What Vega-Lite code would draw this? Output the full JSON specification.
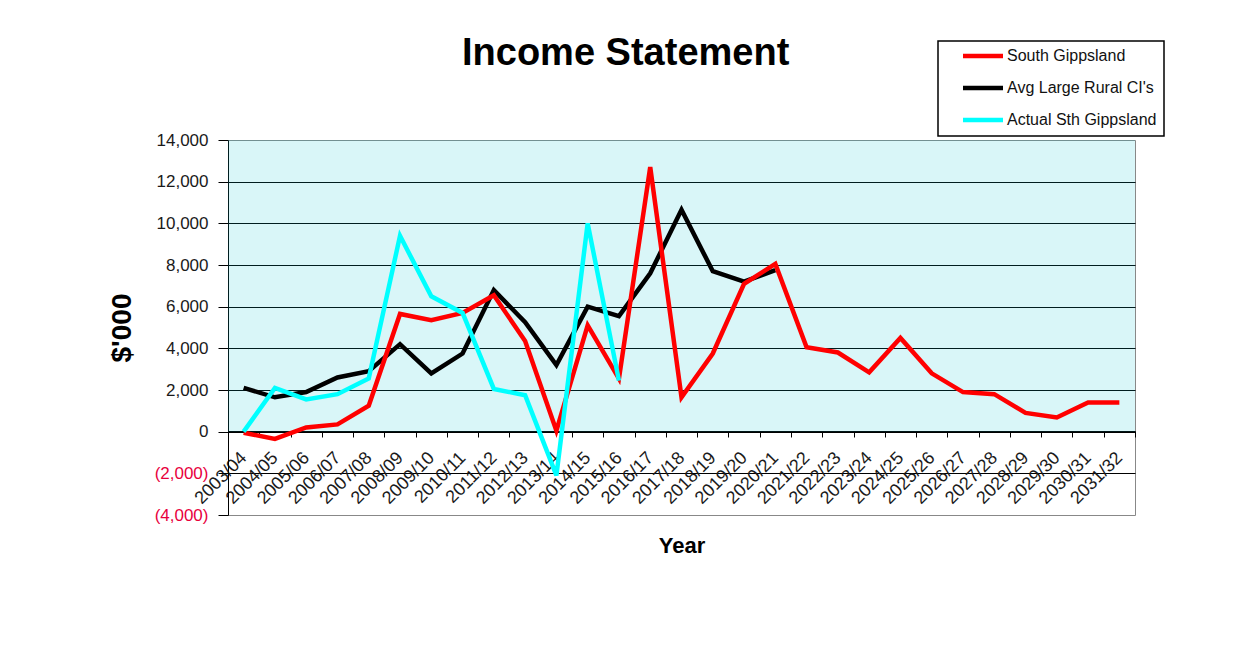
{
  "$schema": "https://vega.github.io/schema/vega-lite/v6.json",
  "width": 907,
  "height": 375,
  "autosize": {"type": "none"},
  "padding": {"left": 228, "top": 140, "right": 115, "bottom": 131},
  "background": "white",
  "title": {
    "text": "Income Statement",
    "font": "Liberation Sans",
    "fontSize": 38,
    "fontWeight": "bold",
    "color": "black",
    "anchor": "start",
    "frame": "group",
    "dx": 234,
    "dy": 53,
    "offset": 20
  },
  "config": {
    "view": {"stroke": "#888888", "strokeWidth": 1},
    "legend": {"strokeWidth": 1.5}
  },
  "datasets": {
    "rows": [
      {"year": "2003/04", "series": "South Gippsland", "value": -50},
      {"year": "2004/05", "series": "South Gippsland", "value": -350},
      {"year": "2005/06", "series": "South Gippsland", "value": 200},
      {"year": "2006/07", "series": "South Gippsland", "value": 350},
      {"year": "2007/08", "series": "South Gippsland", "value": 1250},
      {"year": "2008/09", "series": "South Gippsland", "value": 5650},
      {"year": "2009/10", "series": "South Gippsland", "value": 5350},
      {"year": "2010/11", "series": "South Gippsland", "value": 5700},
      {"year": "2011/12", "series": "South Gippsland", "value": 6550},
      {"year": "2012/13", "series": "South Gippsland", "value": 4350},
      {"year": "2013/14", "series": "South Gippsland", "value": 50},
      {"year": "2014/15", "series": "South Gippsland", "value": 5100},
      {"year": "2015/16", "series": "South Gippsland", "value": 2550},
      {"year": "2016/17", "series": "South Gippsland", "value": 12700},
      {"year": "2017/18", "series": "South Gippsland", "value": 1650},
      {"year": "2018/19", "series": "South Gippsland", "value": 3750},
      {"year": "2019/20", "series": "South Gippsland", "value": 7100},
      {"year": "2020/21", "series": "South Gippsland", "value": 8050},
      {"year": "2021/22", "series": "South Gippsland", "value": 4050},
      {"year": "2022/23", "series": "South Gippsland", "value": 3800},
      {"year": "2023/24", "series": "South Gippsland", "value": 2850},
      {"year": "2024/25", "series": "South Gippsland", "value": 4500},
      {"year": "2025/26", "series": "South Gippsland", "value": 2800},
      {"year": "2026/27", "series": "South Gippsland", "value": 1900},
      {"year": "2027/28", "series": "South Gippsland", "value": 1800},
      {"year": "2028/29", "series": "South Gippsland", "value": 900},
      {"year": "2029/30", "series": "South Gippsland", "value": 680},
      {"year": "2030/31", "series": "South Gippsland", "value": 1400},
      {"year": "2031/32", "series": "South Gippsland", "value": 1400},
      {"year": "2003/04", "series": "Avg Large Rural CI's", "value": 2100},
      {"year": "2004/05", "series": "Avg Large Rural CI's", "value": 1650},
      {"year": "2005/06", "series": "Avg Large Rural CI's", "value": 1900},
      {"year": "2006/07", "series": "Avg Large Rural CI's", "value": 2600},
      {"year": "2007/08", "series": "Avg Large Rural CI's", "value": 2900},
      {"year": "2008/09", "series": "Avg Large Rural CI's", "value": 4200},
      {"year": "2009/10", "series": "Avg Large Rural CI's", "value": 2800},
      {"year": "2010/11", "series": "Avg Large Rural CI's", "value": 3750},
      {"year": "2011/12", "series": "Avg Large Rural CI's", "value": 6800},
      {"year": "2012/13", "series": "Avg Large Rural CI's", "value": 5250},
      {"year": "2013/14", "series": "Avg Large Rural CI's", "value": 3200},
      {"year": "2014/15", "series": "Avg Large Rural CI's", "value": 6000},
      {"year": "2015/16", "series": "Avg Large Rural CI's", "value": 5550},
      {"year": "2016/17", "series": "Avg Large Rural CI's", "value": 7600},
      {"year": "2017/18", "series": "Avg Large Rural CI's", "value": 10650},
      {"year": "2018/19", "series": "Avg Large Rural CI's", "value": 7700},
      {"year": "2019/20", "series": "Avg Large Rural CI's", "value": 7200},
      {"year": "2020/21", "series": "Avg Large Rural CI's", "value": 7750},
      {"year": "2003/04", "series": "Actual Sth Gippsland", "value": 0},
      {"year": "2004/05", "series": "Actual Sth Gippsland", "value": 2100},
      {"year": "2005/06", "series": "Actual Sth Gippsland", "value": 1550},
      {"year": "2006/07", "series": "Actual Sth Gippsland", "value": 1800},
      {"year": "2007/08", "series": "Actual Sth Gippsland", "value": 2550},
      {"year": "2008/09", "series": "Actual Sth Gippsland", "value": 9400},
      {"year": "2009/10", "series": "Actual Sth Gippsland", "value": 6500},
      {"year": "2010/11", "series": "Actual Sth Gippsland", "value": 5700},
      {"year": "2011/12", "series": "Actual Sth Gippsland", "value": 2050},
      {"year": "2012/13", "series": "Actual Sth Gippsland", "value": 1750},
      {"year": "2013/14", "series": "Actual Sth Gippsland", "value": -2100},
      {"year": "2014/15", "series": "Actual Sth Gippsland", "value": 10000},
      {"year": "2015/16", "series": "Actual Sth Gippsland", "value": 2450}
    ],
    "zones": [
      {"zone": "positive"}
    ]
  },
  "layer": [
    {
      "data": {"name": "zones"},
      "mark": {"type": "rect", "color": "#02c3d0", "opacity": 0.15},
      "encoding": {
        "x": {"value": 0},
        "x2": {"value": "width"},
        "y": {"datum": 14000, "type": "quantitative", "scale": {"domain": [-4000, 14000], "nice": false, "zero": false}},
        "y2": {"datum": 0}
      }
    },
    {
      "data": {"name": "rows"},
      "transform": [{"filter": "datum.series === \"Avg Large Rural CI's\""}],
      "mark": {"type": "line", "strokeWidth": 4.5},
      "encoding": {
        "x": {
          "field": "year",
          "type": "nominal",
          "sort": "ascending",
          "bandPosition": 0.5,
          "scale": {"type": "band", "paddingInner": 0, "paddingOuter": 0},
          "axis": {
            "title": "Year",
            "titleFont": "Liberation Sans",
            "titleFontSize": 22,
            "titleFontWeight": "bold",
            "titleColor": "black",
            "titlePadding": 28,
            "offset": -84,
            "labelAngle": -45,
            "labelAlign": "right",
            "labelBaseline": "middle",
            "labelFont": "Liberation Sans",
            "labelFontSize": 18,
            "labelColor": "#1a1a1a",
            "labelPadding": 18,
            "labelOverlap": false,
            "labelBound": false,
            "tickBand": "extent",
            "tickSize": 6,
            "tickColor": "black",
            "domainColor": "black",
            "grid": false
          }
        },
        "y": {
          "field": "value",
          "type": "quantitative",
          "axis": {
            "values": [-4000, -2000, 0, 2000, 4000, 6000, 8000, 10000, 12000, 14000],
            "title": "$'000",
            "titleFont": "Liberation Sans",
            "titleFontSize": 28,
            "titleFontWeight": "bold",
            "titleColor": "black",
            "titlePadding": 18,
            "labelFont": "Liberation Sans",
            "labelFontSize": 17,
            "labelColor": {"condition": {"test": "datum.value < 0", "value": "#e8003d"}, "value": "#1a1a1a"},
            "labelExpr": "datum.value < 0 ? '(' + format(-datum.value, ',') + ')' : format(datum.value, ',')",
            "labelPadding": 10,
            "tickSize": 10,
            "tickColor": "black",
            "domainColor": "black",
            "grid": true,
            "gridColor": {"condition": {"test": "datum.value >= 14000 || datum.value <= -4000", "value": "transparent"}, "value": "black"},
            "gridWidth": 1,
            "gridOpacity": 1
          }
        },
        "color": {
          "field": "series",
          "type": "nominal",
          "scale": {
            "domain": ["South Gippsland", "Avg Large Rural CI's", "Actual Sth Gippsland"],
            "range": ["#ff0000", "#000000", "#00ffff"]
          },
          "legend": {
            "title": null,
            "orient": "none",
            "legendX": 710,
            "legendY": -99,
            "strokeColor": "black",
            "fillColor": "white",
            "padding": 7,
            "symbolType": "M-5,0H5",
            "symbolSize": 64,
            "symbolStrokeWidth": 4.5,
            "symbolOffset": 30,
            "labelFont": "Liberation Sans",
            "labelFontSize": 16,
            "labelColor": "#111111",
            "labelOffset": 16,
            "labelLimit": 300,
            "rowPadding": 14,
            "labelExpr": "datum.label + '\u2003\u2002'"
          }
        }
      }
    },
    {
      "data": {"name": "rows"},
      "transform": [{"filter": "datum.series === 'South Gippsland'"}],
      "mark": {"type": "line", "strokeWidth": 4.5},
      "encoding": {
        "x": {"field": "year", "type": "nominal", "sort": "ascending", "bandPosition": 0.5},
        "y": {"field": "value", "type": "quantitative"},
        "color": {"field": "series", "type": "nominal"}
      }
    },
    {
      "data": {"name": "rows"},
      "transform": [{"filter": "datum.series === 'Actual Sth Gippsland'"}],
      "mark": {"type": "line", "strokeWidth": 4.5},
      "encoding": {
        "x": {"field": "year", "type": "nominal", "sort": "ascending", "bandPosition": 0.5},
        "y": {"field": "value", "type": "quantitative"},
        "color": {"field": "series", "type": "nominal"}
      }
    }
  ]
}
